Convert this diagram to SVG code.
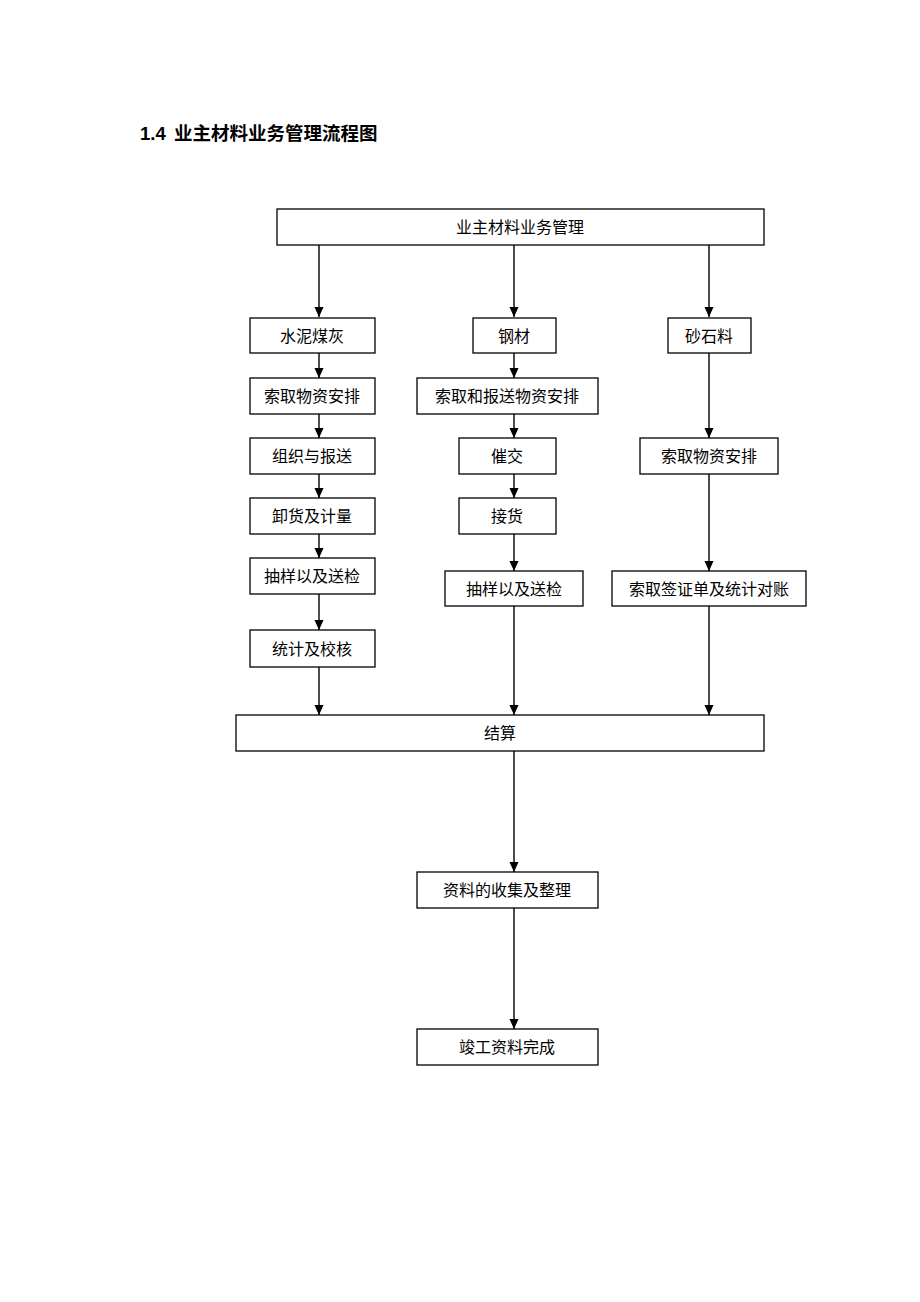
<svg xmlns="http://www.w3.org/2000/svg" width="920" height="1302" viewBox="0 0 920 1302">
<style>
.b{fill:#fff;stroke:#000;stroke-width:1.3}
.t{font-family:"Liberation Serif","Noto Sans CJK SC",serif;font-size:16px;fill:#000;text-anchor:middle;dominant-baseline:central}
.c line{stroke:#000;stroke-width:1.4}
.h{font-family:"Liberation Sans","Noto Sans CJK SC",sans-serif;font-size:18.5px;font-weight:bold;fill:#000}
</style>
<defs>
<marker id="m" markerWidth="10" markerHeight="11" refX="11" refY="5" orient="auto" markerUnits="userSpaceOnUse" viewBox="0 0 11 10">
<path d="M0,0 L11,5 L0,10 Z" fill="#000"/>
</marker>
</defs>
<rect width="920" height="1302" fill="#fff"/>
<text class="h" x="140" y="140">1.4</text>
<text class="h" x="174" y="140">业主材料业务管理流程图</text>
<g class="c">
<line x1="319" y1="245" x2="319" y2="317" marker-end="url(#m)"/>
<line x1="514" y1="245" x2="514" y2="317" marker-end="url(#m)"/>
<line x1="709" y1="245" x2="709" y2="317" marker-end="url(#m)"/>
<line x1="319" y1="353" x2="319" y2="378" marker-end="url(#m)"/>
<line x1="319" y1="414" x2="319" y2="438" marker-end="url(#m)"/>
<line x1="319" y1="474" x2="319" y2="498" marker-end="url(#m)"/>
<line x1="319" y1="534" x2="319" y2="558" marker-end="url(#m)"/>
<line x1="319" y1="594" x2="319" y2="630" marker-end="url(#m)"/>
<line x1="319" y1="667" x2="319" y2="715" marker-end="url(#m)"/>
<line x1="514" y1="353" x2="514" y2="378" marker-end="url(#m)"/>
<line x1="514" y1="414" x2="514" y2="438" marker-end="url(#m)"/>
<line x1="514" y1="474" x2="514" y2="498" marker-end="url(#m)"/>
<line x1="514" y1="534" x2="514" y2="571" marker-end="url(#m)"/>
<line x1="514" y1="606" x2="514" y2="715" marker-end="url(#m)"/>
<line x1="709" y1="353" x2="709" y2="438" marker-end="url(#m)"/>
<line x1="709" y1="474" x2="709" y2="571" marker-end="url(#m)"/>
<line x1="709" y1="606" x2="709" y2="715" marker-end="url(#m)"/>
<line x1="514" y1="751" x2="514" y2="872" marker-end="url(#m)"/>
<line x1="514" y1="908" x2="514" y2="1029" marker-end="url(#m)"/>
</g>
<g id="n0"><rect class="b" x="277" y="209" width="487" height="36"/><text class="t" x="520" y="227">业主材料业务管理</text></g>
<g id="n1"><rect class="b" x="250" y="318" width="125" height="35"/><text class="t" x="312" y="336">水泥煤灰</text></g>
<g id="n2"><rect class="b" x="473" y="318" width="83" height="35"/><text class="t" x="514" y="336">钢材</text></g>
<g id="n3"><rect class="b" x="668" y="318" width="83" height="35"/><text class="t" x="709" y="336">砂石料</text></g>
<g id="n4"><rect class="b" x="250" y="378" width="125" height="36"/><text class="t" x="312" y="396">索取物资安排</text></g>
<g id="n5"><rect class="b" x="417" y="378" width="181" height="36"/><text class="t" x="507" y="396">索取和报送物资安排</text></g>
<g id="n6"><rect class="b" x="250" y="438" width="125" height="36"/><text class="t" x="312" y="456">组织与报送</text></g>
<g id="n7"><rect class="b" x="459" y="438" width="97" height="36"/><text class="t" x="507" y="456">催交</text></g>
<g id="n8"><rect class="b" x="640" y="438" width="138" height="36"/><text class="t" x="709" y="456">索取物资安排</text></g>
<g id="n9"><rect class="b" x="250" y="498" width="125" height="36"/><text class="t" x="312" y="516">卸货及计量</text></g>
<g id="n10"><rect class="b" x="459" y="498" width="97" height="36"/><text class="t" x="507" y="516">接货</text></g>
<g id="n11"><rect class="b" x="250" y="558" width="125" height="36"/><text class="t" x="312" y="576">抽样以及送检</text></g>
<g id="n12"><rect class="b" x="445" y="571" width="138" height="35"/><text class="t" x="514" y="589">抽样以及送检</text></g>
<g id="n13"><rect class="b" x="612" y="571" width="194" height="35"/><text class="t" x="709" y="589">索取签证单及统计对账</text></g>
<g id="n14"><rect class="b" x="250" y="630" width="125" height="37"/><text class="t" x="312" y="649">统计及校核</text></g>
<g id="n15"><rect class="b" x="236" y="715" width="528" height="36"/><text class="t" x="500" y="733">结算</text></g>
<g id="n16"><rect class="b" x="417" y="872" width="181" height="36"/><text class="t" x="507" y="890">资料的收集及整理</text></g>
<g id="n17"><rect class="b" x="417" y="1029" width="181" height="36"/><text class="t" x="507" y="1047">竣工资料完成</text></g>
</svg>
